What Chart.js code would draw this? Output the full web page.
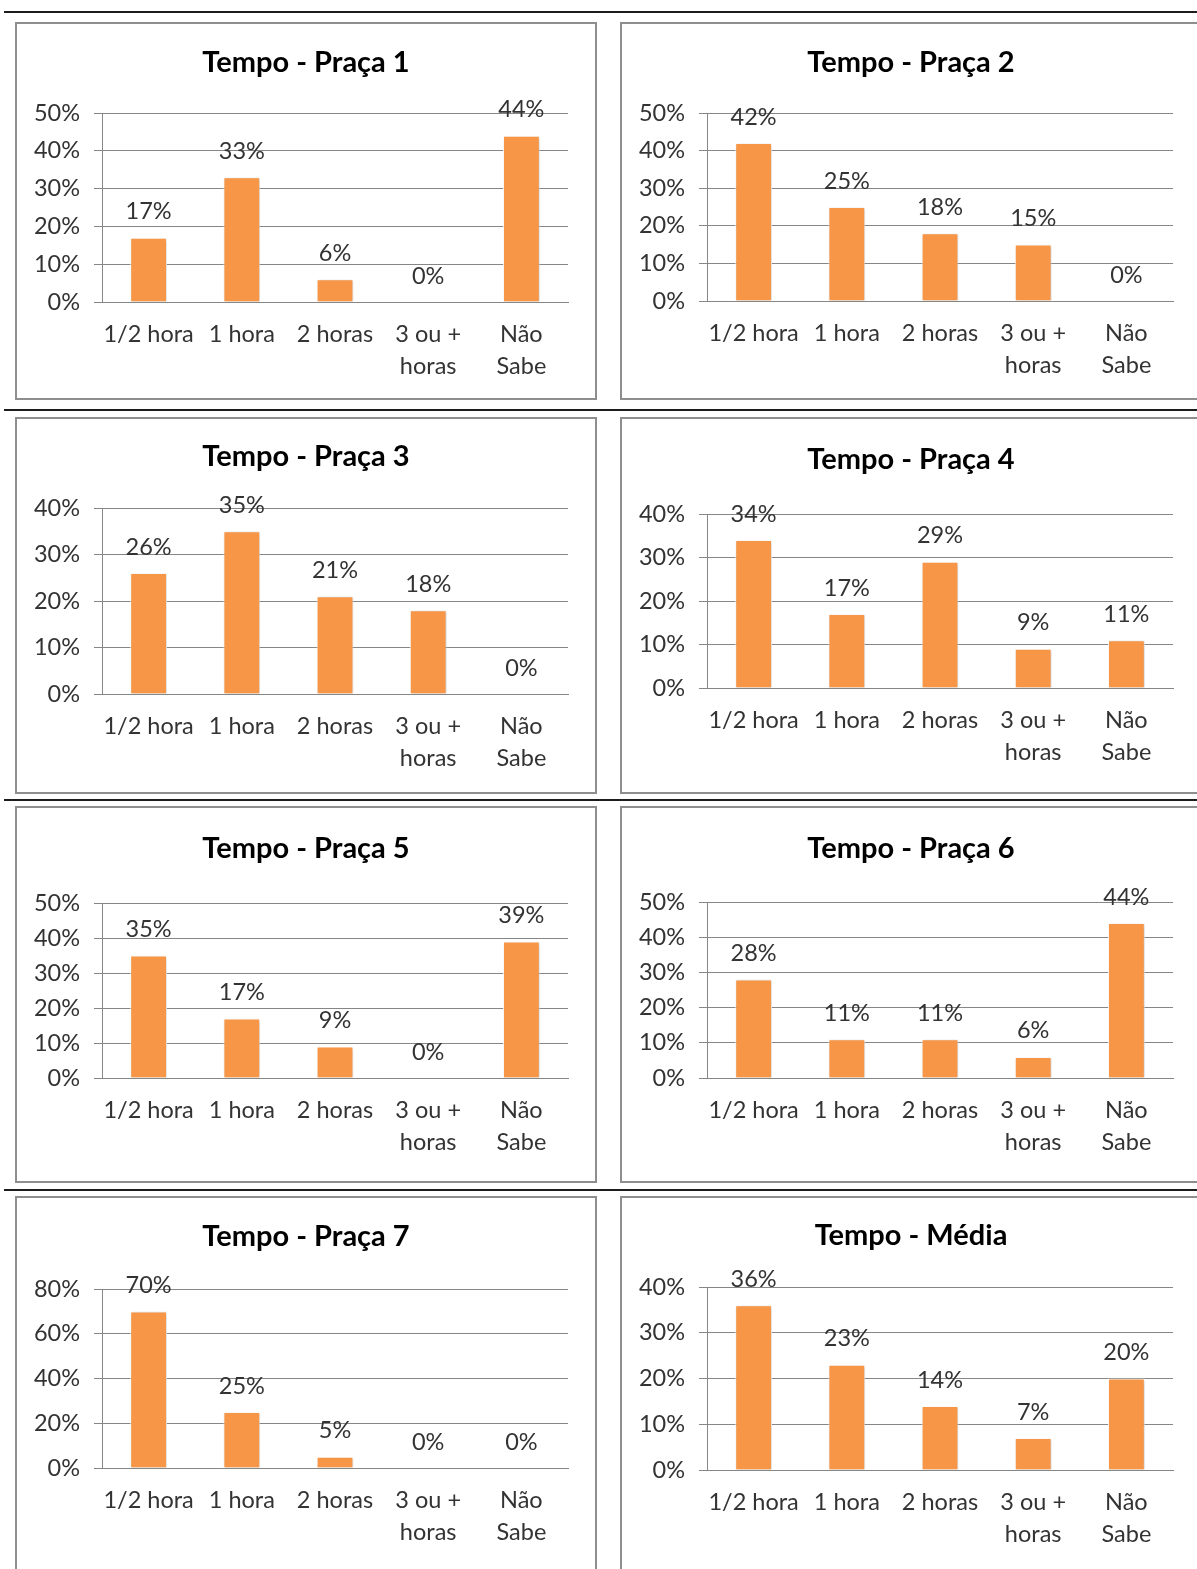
<!DOCTYPE html>
<html>
<head>
<meta charset="utf-8">
<script src="https://cdn.jsdelivr.net/npm/chart.js"></script>
<style>
  html, body { margin: 0; padding: 0; background: #fff; }
  body { width: 1197px; height: 1569px; position: relative; overflow: hidden; }
  .linha { position: absolute; left: 4px; width: 1193px; height: 2px; background: #1c1c1c; }
  .painel { position: absolute; box-sizing: border-box; width: 582px; height: 378px; border: 2px solid #8e8e8e; background: #fff; }
  .painel canvas { display: block; }
</style>
</head>
<body>

<div class="linha" style="top:11px"></div>
<div class="linha" style="top:409px"></div>
<div class="linha" style="top:799px"></div>
<div class="linha" style="top:1189px"></div>

<script>
// categorias do eixo x (quebra de linha como no original)
const categorias = [["1/2 hora"], ["1 hora"], ["2 horas"], ["3 ou +", "horas"], ["Não", "Sabe"]];

// percentuais por praça
const praca1 = [17, 33, 6, 0, 44];
const praca2 = [42, 25, 18, 15, 0];
const praca3 = [26, 35, 21, 18, 0];
const praca4 = [34, 17, 29, 9, 11];
const praca5 = [35, 17, 9, 0, 39];
const praca6 = [28, 11, 11, 6, 44];
const praca7 = [70, 25, 5, 0, 0];
const media  = [36, 23, 14, 7, 20];

const titulos = ["Tempo - Praça 1", "Tempo - Praça 2", "Tempo - Praça 3", "Tempo - Praça 4",
                 "Tempo - Praça 5", "Tempo - Praça 6", "Tempo - Praça 7", "Tempo - Média"];
const series = [praca1, praca2, praca3, praca4, praca5, praca6, praca7, media];

// escala do eixo y de cada gráfico
const maximos = [50, 50, 40, 40, 50, 50, 80, 40];
const passos  = [10, 10, 10, 10, 10, 10, 20, 10];

// posição de cada painel: [left, top, height, centro do título, topo do gráfico, linha do zero]
const paineis = [
  [15, 22, 378, 39, 89, 278], [620, 22, 378, 39, 89, 277],
  [15, 417, 377, 38, 89, 275], [620, 417, 377, 41, 95, 269],
  [15, 806, 377, 41, 95, 270], [620, 806, 377, 41, 94, 270],
  [15, 1196, 377, 39, 91, 270], [620, 1196, 377, 38, 89, 272]
];

const FONTE = "Lato, 'Open Sans', sans-serif";
const COR_TEXTO = "#333333";
const COR_GRADE = "#868686";
const TAM_TITULO = 29;
const TAM_TEXTO = 23.5;

// rótulos de valor acima das barras + sombra leve nas barras
const rotulos = {
  id: 'rotulos',
  beforeDatasetsDraw(chart) {
    const ctx = chart.ctx;
    ctx.save();
    ctx.shadowColor = 'rgba(0,0,0,0.22)';
    ctx.shadowBlur = 3;
    ctx.shadowOffsetX = 1;
    ctx.shadowOffsetY = 1;
  },
  afterDatasetsDraw(chart) {
    const ctx = chart.ctx;
    ctx.restore();
    const meta = chart.getDatasetMeta(0);
    const valores = chart.data.datasets[0].data;
    ctx.save();
    ctx.font = TAM_TEXTO + "px " + FONTE;
    ctx.fillStyle = COR_TEXTO;
    ctx.textAlign = 'center';
    ctx.textBaseline = 'middle';
    meta.data.forEach((barra, i) => {
      ctx.fillText(valores[i] + '%', barra.x, barra.y - 26);
    });
    ctx.restore();
  }
};

paineis.forEach((p, i) => {
  const [left, top, h, tituloY, topoY, zeroY] = p;
  const div = document.createElement('div');
  div.className = 'painel';
  div.style.left = left + 'px';
  div.style.top = top + 'px';
  div.style.height = h + 'px';
  const canvas = document.createElement('canvas');
  const W = 578, H = h - 4;
  canvas.width = W;
  canvas.height = H;
  div.appendChild(canvas);
  document.body.appendChild(div);

  const alturaTitulo = TAM_TITULO * 1.2;

  new Chart(canvas, {
    type: 'bar',
    data: {
      labels: categorias,
      datasets: [{
        data: series[i],
        backgroundColor: '#F79646',
        borderColor: 'rgba(255,255,255,0.85)',
        borderWidth: 1,
        barPercentage: 0.395,
        categoryPercentage: 1
      }]
    },
    options: {
      responsive: false,
      animation: false,
      events: [],
      layout: { padding: 0 },
      plugins: {
        legend: { display: false },
        tooltip: { enabled: false },
        title: {
          display: true,
          text: titulos[i],
          color: '#000',
          font: { family: FONTE, size: TAM_TITULO, weight: 'bold', lineHeight: 1.2 },
          padding: { top: tituloY - alturaTitulo / 2, bottom: topoY - tituloY - alturaTitulo / 2 }
        }
      },
      scales: {
        x: {
          grid: { display: false, drawTicks: false },
          border: { display: true, color: COR_GRADE, width: 1 },
          ticks: {
            color: COR_TEXTO,
            font: { family: FONTE, size: TAM_TEXTO, lineHeight: 1.38 },
            padding: 16,
            maxRotation: 0,
            autoSkip: false
          },
          afterFit(scale) { scale.height = H - zeroY; }
        },
        y: {
          min: 0,
          max: maximos[i],
          grid: { color: COR_GRADE, lineWidth: 1, drawTicks: true, tickLength: 8 },
          border: { display: true, color: COR_GRADE, width: 1 },
          ticks: {
            stepSize: passos[i],
            color: COR_TEXTO,
            font: { family: FONTE, size: TAM_TEXTO },
            padding: 14,
            callback: v => v + '%'
          },
          afterFit(scale) { scale.width = 85; }
        },
        // margem vazia à direita do gráfico (o título continua centrado no painel)
        margem: {
          type: 'linear',
          position: 'right',
          grid: { display: false, drawTicks: false },
          border: { display: false },
          ticks: { display: false },
          afterFit(scale) { scale.width = 27; }
        }
      }
    },
    plugins: [rotulos]
  });
});
</script>
</body>
</html>
